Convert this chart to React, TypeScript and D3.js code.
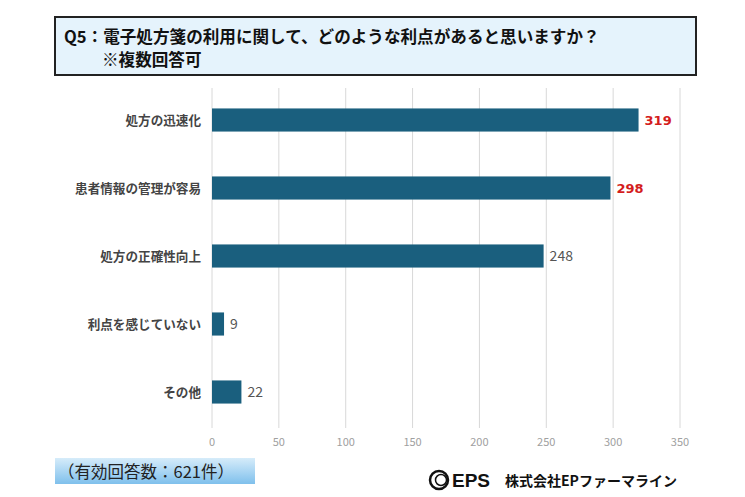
import React from "react";
import * as d3 from "d3";

const categories = ["処方の迅速化", "患者情報の管理が容易", "処方の正確性向上", "利点を感じていない", "その他"];
const counts = [319, 298, 248, 9, 22];
const highlighted = [true, true, false, false, false];
const xTicks = [0, 50, 100, 150, 200, 250, 300, 350];
const titleLine1 = "Q5：電子処方箋の利用に関して、どのような利点があると思いますか？";
const titleLine2 = "※複数回答可";
const footnote = "（有効回答数：621件）";
const company = "株式会社EPファーマライン";

const W = 745;
const H = 497;
const FONT = "'Noto Sans CJK JP', 'Noto Sans', sans-serif";

export default function App() {
  const x = d3.scaleLinear().domain([0, 350]).range([212, 680]);
  const y = d3.scaleBand<string>().domain(categories).range([86, 426]).paddingInner(0.66).paddingOuter(0.33);

  return (
    <svg width={W} height={H} style={{ position: "absolute", left: 0, top: 0, background: "#fff" }}>
      <defs>
        <linearGradient id="foot" x1="0" y1="0" x2="0" y2="1">
          <stop offset="0" stopColor="#d6ecfa" />
          <stop offset="1" stopColor="#7fc0ec" />
        </linearGradient>
      </defs>
      <rect x={0} y={0} width={W} height={H} fill="#fff" />

      <rect x={55} y={17} width={641} height={58} fill="#e5f3fc" stroke="#222" strokeWidth={2} />
      <text x={64} y={43} fontFamily={FONT} fontWeight="bold" fontSize={16.6} fill="#111">{titleLine1}</text>
      <text x={102} y={66} fontFamily={FONT} fontWeight="bold" fontSize={16.6} fill="#111">{titleLine2}</text>

      {xTicks.map((t) => (
        <g key={t}>
          <line x1={x(t)} x2={x(t)} y1={88} y2={428} stroke="#d8d8d8" strokeWidth={1} />
          <text x={x(t)} y={446} textAnchor="middle" fontFamily={FONT} fontSize={11} fill="#a0a0a0">{t}</text>
        </g>
      ))}

      {categories.map((c, i) => {
        const yy = y(c)!;
        const bw = y.bandwidth();
        return (
          <g key={c}>
            <text x={201} y={yy + bw / 2 + 4.5} textAnchor="end" fontFamily={FONT} fontWeight="bold" fontSize={12.6} fill="#444">{c}</text>
            <rect x={x(0)} y={yy} width={x(counts[i]) - x(0)} height={bw} fill="#1a5f7e" />
            <text x={x(counts[i]) + 6} y={yy + bw / 2 + 5}
              fontFamily={highlighted[i] ? "Verdana, 'DejaVu Sans', sans-serif" : FONT}
              fontWeight={highlighted[i] ? "bold" : "normal"} fontSize={highlighted[i] ? 13 : 14}
              fill={highlighted[i] ? "#d41d1d" : "#555"}>{counts[i]}</text>
          </g>
        );
      })}

      <rect x={55} y={458} width={200} height={26} fill="url(#foot)" />
      <text x={58} y={478} fontFamily={FONT} fontSize={16.5} fill="#222">{footnote}</text>

      <g>
        <circle cx={439} cy={480} r={9} fill="none" stroke="#111" strokeWidth={2.5} />
        <circle cx={441} cy={480} r={5.5} fill="none" stroke="#111" strokeWidth={1.5} />
        <text x={452} y={487} fontFamily="'Liberation Sans', Arial, sans-serif" fontWeight="bold" fontSize={19} fill="#111">EPS</text>
        <text x={505} y={486} fontFamily={FONT} fontWeight="bold" fontSize={14} fill="#111">{company}</text>
      </g>
    </svg>
  );
}
